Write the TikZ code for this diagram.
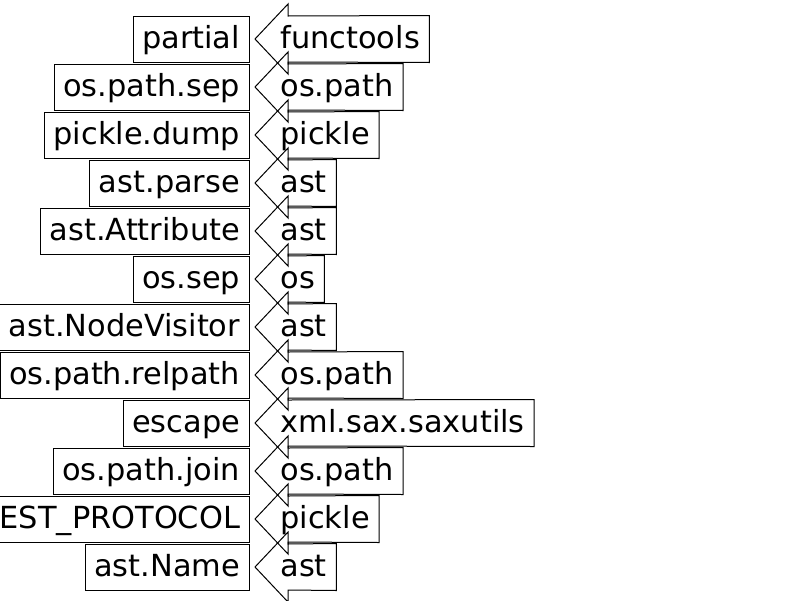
\documentclass[tikz,border=0pt]{standalone}
\usepackage{fontspec}
\setmainfont{DejaVu Sans}

\begin{document}
\begin{tikzpicture}[x=1pt,y=1pt,line width=1pt,
	label/.style={font=\fontsize{30.4}{36}\selectfont,text height=23pt,text depth=5pt,inner ysep=9pt},
	member/.style={label,draw,anchor=east,inner xsep=9pt},
	source/.style={label,anchor=west,inner xsep=9pt}]
	\useasboundingbox (0,0) rectangle (800,-600);
	\foreach \obj/\mod [count=\i from 0] in {partial/functools,os.path.sep/os.path,pickle.dump/pickle,ast.parse/ast,ast.Attribute/ast,os.sep/os,ast.NodeVisitor/ast,os.path.relpath/os.path,escape/xml.sax.saxutils,os.path.join/os.path,HIGHEST\_PROTOCOL/pickle,ast.Name/ast}
	{
		\pgfmathsetmacro\y{-39-48*\i}
		\node[member] (n\i) at (249.5,\y) {\obj};
		\node[source] (m\i) at (271,\y) {\mod};
		\draw (255,\y) -- (288,\y+35) -- (288,\y+23) -- (m\i.north east) -- (m\i.south east) -- (288,\y-23) -- (288,\y-35) -- cycle;
	}
\end{tikzpicture}
\end{document}
